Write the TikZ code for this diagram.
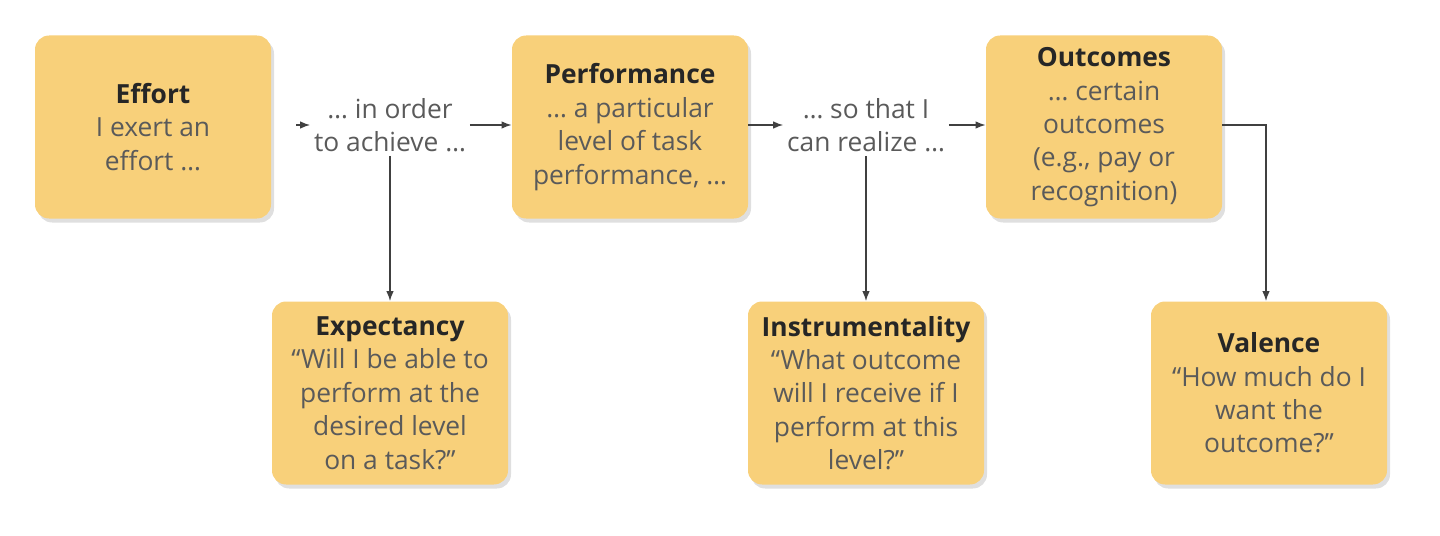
\documentclass[tikz,border=0pt]{standalone}
\usepackage{fontspec}
\setmainfont{Open Sans}
\usetikzlibrary{arrows.meta,shadows}
\tikzset{>={Latex[length=2mm,width=1.5mm]}}
\definecolor{boxfill}{HTML}{F8D07A}
\definecolor{txtgray}{HTML}{5A5A5A}
\tikzset{
  box/.style={rectangle,rounded corners=8pt,fill=boxfill,minimum width=4.72cm,
    minimum height=3.66cm,align=center,text=txtgray,font=\fontsize{15}{19}\selectfont,
    drop shadow={shadow xshift=0.6mm,shadow yshift=-0.8mm,opacity=0.25}},
  link/.style={align=center,text=txtgray,font=\fontsize{15}{19}\selectfont,inner sep=2pt},
  conn/.style={->,draw=black!75,thick}
}
\newcommand{\ttl}[1]{{\color{black!85}\bfseries #1}}
\begin{document}
\begin{tikzpicture}
\useasboundingbox (0,0) rectangle (28.8,10.7);
    %boxes
    \node[box] (effort) at (3.06,8.16) {\ttl{Effort}\\I exert an\\effort \dots};
    \node[box] (perf) at (12.6,8.16) {\ttl{Performance}\\\dots\ a particular\\level of task\\performance, \dots};
    \node[box] (outc) at (22.08,8.16) {\ttl{Outcomes}\\\dots\ certain\\outcomes\\(e.g., pay or\\recognition)};
    \node[box] (expect) at (7.8,2.84) {\ttl{Expectancy}\\``Will I be able to\\perform at the\\desired level\\on a task?''};
    \node[box] (instr) at (17.32,2.84) {\ttl{Instrumentality}\\``What outcome\\will I receive if I\\perform at this\\level?''};
    \node[box] (val) at (25.38,2.84) {\ttl{Valence}\\``How much do I\\want the\\outcome?''};
    %links
    \node[link] (order) at (7.8,8.2) {\dots\ in order\\to achieve \dots};
    \node[link] (real) at (17.32,8.2) {\dots\ so that I\\can realize \dots};
    \coordinate (bend) at (25.32,8.2);
    %lines
    \draw[conn] (effort.east |- order.west) ++(0.5,0) -- (order.west);
    \draw[conn] (order.east) -- (perf.west |- order.east);
    \draw[conn] (perf.east |- real.west) -- (real.west);
    \draw[conn] (real.east) -- (outc.west |- real.east);
    \draw[conn] (order.south) -- (expect.north);
    \draw[conn] (real.south) -- (instr.north);
    \draw[conn] (outc.east |- bend) -- (bend) -- (val.north -| bend);
\end{tikzpicture}
\end{document}
